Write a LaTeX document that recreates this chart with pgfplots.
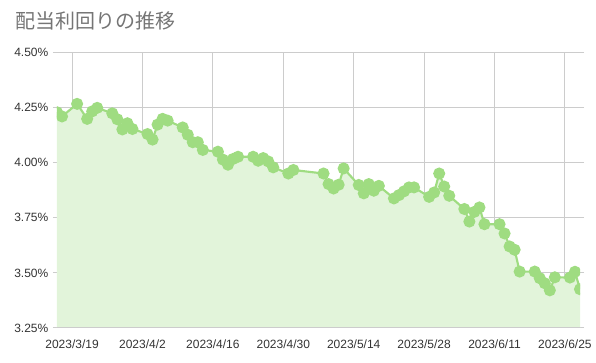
\documentclass[border=0pt]{standalone}
\usepackage{fontspec}
\setmainfont{Liberation Sans}
\newfontfamily\cjk{Noto Sans CJK JP}
\usepackage{pgfplots}
\usepackage{pgfplotstable}
\pgfplotsset{compat=1.18}
\definecolor{lg}{HTML}{9FDC81}
\definecolor{fillg}{HTML}{E2F4DA}
\definecolor{gridc}{HTML}{CCCCCC}
\definecolor{tickc}{HTML}{333333}
\definecolor{titlec}{HTML}{757575}
\pgfplotstableread{
d v
-3 4.229
-2 4.210
1 4.267
3 4.199
4 4.233
5 4.249
8 4.224
9 4.197
10 4.151
11 4.179
12 4.153
15 4.130
16 4.105
17 4.173
18 4.199
19 4.191
22 4.160
23 4.127
24 4.093
25 4.093
26 4.058
29 4.050
30 4.014
31 3.991
32 4.017
33 4.027
36 4.027
37 4.009
38 4.021
39 4.006
40 3.979
43 3.951
44 3.967
50 3.951
51 3.903
52 3.883
53 3.900
54 3.974
57 3.899
58 3.861
59 3.903
60 3.873
61 3.895
64 3.838
65 3.853
66 3.870
67 3.888
68 3.888
71 3.845
72 3.865
73 3.951
74 3.892
75 3.850
78 3.790
79 3.733
80 3.777
81 3.797
82 3.721
85 3.721
86 3.679
87 3.620
88 3.605
89 3.506
92 3.506
93 3.476
94 3.453
95 3.421
96 3.480
99 3.479
100 3.505
101 3.426
}\datatable
\begin{document}
\begin{tikzpicture}[x=0.75pt,y=0.75pt]
\path[use as bounding box] (0,0) rectangle (596,363);
\node[anchor=west,font=\cjk\fontsize{15}{17}\selectfont,text=titlec,inner sep=0] at (15,342) {配当利回りの推移};
\begin{axis}[
  at={(42.75pt,26.25pt)}, anchor=south west,
  scale only axis, width=392.25pt, height=206.6pt,
  xmin=-3, xmax=101, ymin=3.25, ymax=4.5,
  axis line style={draw=none},
  grid=major, major grid style={gridc, line width=0.75pt},
  xtick={0,14,28,42,56,70,84,98},
  xticklabels={2023/3/19,2023/4/2,2023/4/16,2023/4/30,2023/5/14,2023/5/28,2023/6/11,2023/6/25},
  ytick={3.25,3.5,3.75,4,4.25,4.5},
  yticklabels={3.25\%,3.50\%,3.75\%,4.00\%,4.25\%,4.50\%},
  tick label style={font=\fontsize{9}{10}\selectfont, text=tickc},
  xtick style={draw=none},
  ytick style={gridc, line width=0.75pt},
  tick align=outside, major tick length=3pt,
  xticklabel style={yshift=-2.25pt},
  clip marker paths=true,
]
\addplot[fill=fillg, draw=none] table[x=d,y=v] {\datatable} \closedcycle;
\draw[gridc, line width=0.9pt] (axis cs:-3,3.25) -- (axis cs:101,3.25);
\addplot[lg, line width=1.6pt, mark=*, mark size=3.7pt, mark options={fill=lg, draw=none}] table[x=d,y=v] {\datatable};
\end{axis}
\end{tikzpicture}
\end{document}
